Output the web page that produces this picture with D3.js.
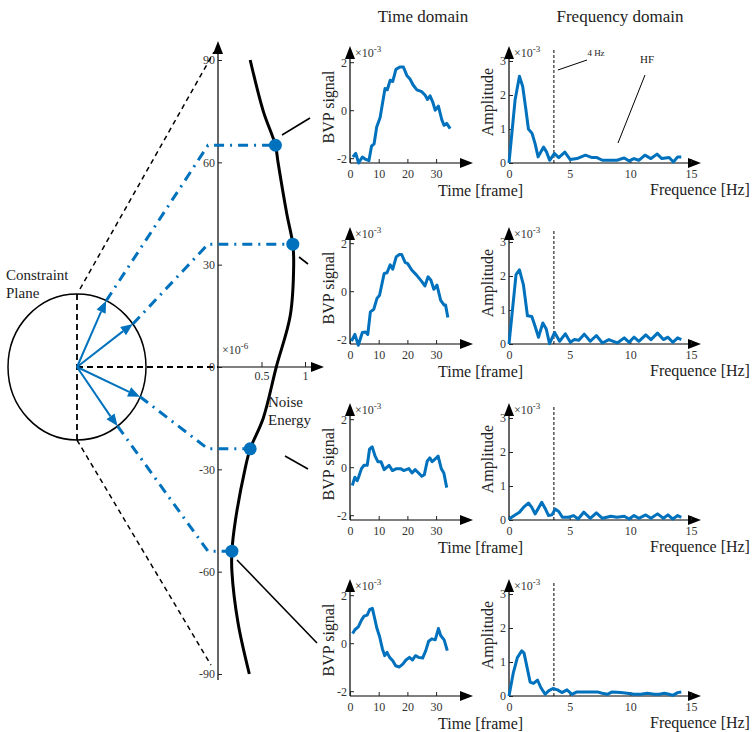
<!DOCTYPE html>
<html>
<head>
<meta charset="utf-8">
<script src="https://cdn.jsdelivr.net/npm/d3@7"></script>
<style>
  body { margin: 0; background: #fff; }
  svg { display: block; }
  text { font-family: "Liberation Serif", "DejaVu Serif", serif; }
</style>
</head>
<body>
<div id="fig"></div>
<script>
// 1: DATA
const angleTicks = [90, 60, 30, 0, -30, -60, -90];
const energyTicks = [0.5, 1];
// noise energy (x1e-6) against projection angle (deg)
const energyCurve = [
  [90, 0.37], [75, 0.52], [65, 0.66], [60, 0.69], [45, 0.79], [36, 0.86], [30, 0.87],
  [15, 0.83], [0, 0.67], [-15, 0.52], [-24, 0.37], [-30, 0.31], [-45, 0.2],
  [-54, 0.16], [-60, 0.16], [-75, 0.23], [-90, 0.36]
];
const pickedAngles = [65, 36, -24, -54];
const pickedEnergy = [0.66, 0.86, 0.37, 0.16];

const timeTicks = [0, 10, 20, 30];
const bvpTicks = [-2, 0, 2];
const freqTicks = [0, 5, 10, 15];
const ampTicks = [0, 1, 2, 3];

const time1 = [[1,-1.95],[2,-1.8],[3,-2.2],[4.3,-1.95],[5.5,-2.05],[6.6,-2.1],[7.5,-1.5],[8.4,-1.4],[9.3,-0.7],[10.5,-0.3],[12.2,0.9],[13,0.85],[14,1.25],[14.9,1.2],[16,1.7],[17.4,1.8],[18.6,1.8],[19.8,1.45],[20.9,1.3],[22,1.05],[23.3,0.85],[25,0.77],[26.2,0.62],[27,0.45],[27.9,0.6],[28.8,0.35],[29.7,0],[30.8,0.17],[32,-0.4],[32.8,-0.63],[33.7,-0.55],[34.9,-0.77]];
const time2 = [[0.5,-2.08],[1.7,-1.8],[2.9,-2.25],[4.3,-1.72],[5.4,-1.7],[6.2,-1.8],[7.1,-0.86],[8.3,-0.75],[9.4,-0.3],[10.3,-0.17],[11.9,0.74],[12.9,0.77],[14,1.1],[14.9,0.92],[16.1,1.43],[17.2,1.53],[18,1.53],[19.2,1.2],[20.1,1.15],[21.5,0.88],[23.2,0.67],[24.9,0.42],[26.1,0.22],[27.2,0.6],[28.2,0.46],[29.2,0.08],[30.3,0.25],[31.6,-0.38],[32.8,-0.58],[33.3,-0.58],[34.1,-1.1]];
const time3 = [[0.8,-0.76],[1.7,-0.42],[2.5,-0.56],[3.1,-0.38],[4,-0.06],[4.9,0.08],[6,0.08],[6.8,0.75],[7.7,0.85],[8.75,0.46],[9.7,0.23],[10.8,0.23],[11.9,-0.1],[13.6,0.08],[14.8,-0.14],[16.2,-0.06],[17.6,-0.06],[18.7,-0.14],[20.5,-0.06],[21.6,-0.24],[22.7,-0.1],[23.9,-0.24],[25,-0.38],[25.9,-0.31],[26.9,0.25],[27.8,0.39],[28.6,0.23],[29.5,0.32],[30.7,0.46],[31.8,-0.06],[32.7,-0.24],[33.7,-0.85]];
const time4 = [[0.9,0.4],[1.7,0.56],[2.9,0.68],[4,0.96],[4.9,1.13],[6,1.17],[6.9,1.41],[7.8,1.45],[8.6,1.03],[9.4,0.61],[10.3,0.28],[11.3,-0.24],[12.1,-0.52],[12.9,-0.38],[13.8,-0.59],[14.9,-0.73],[15.9,-0.94],[17.2,-0.99],[18.4,-0.87],[19.5,-0.7],[20.7,-0.59],[21.8,-0.7],[22.8,-0.52],[23.9,-0.59],[25.3,-0.62],[26.4,-0.31],[27.4,0.08],[28.5,0.18],[29.7,0.14],[30.8,0.61],[31.6,0.32],[32.8,0.14],[33.9,-0.31]];

const freq1 = [[0,0],[0.5,1.85],[0.86,2.55],[1.13,2.25],[1.4,1.55],[1.6,1.0],[1.9,0.87],[2.15,0.57],[2.4,0.18],[2.85,0.47],[3.1,0.32],[3.35,0.08],[3.75,0.28],[4.1,0.16],[4.6,0.32],[5.05,0.1],[5.6,0.13],[6.3,0.23],[6.85,0.16],[7.25,0.16],[7.7,0.08],[8.4,0.08],[8.9,0.08],[9.5,0.15],[9.9,0.06],[10.3,0.13],[10.7,0.08],[11.2,0.23],[11.7,0.13],[12.2,0.26],[12.6,0.13],[13.2,0.16],[13.55,0.03],[13.9,0.18],[14.2,0.18]];
const freq2 = [[0,0],[0.58,2.04],[0.86,2.18],[1.19,1.74],[1.52,0.83],[1.88,0.81],[2.15,0.52],[2.43,0.2],[2.79,0.62],[3.07,0.44],[3.34,0.01],[3.76,0.34],[4.17,0.08],[4.64,0.3],[5.06,0.05],[5.39,0.13],[5.75,0.11],[6.2,0.29],[6.7,0.08],[7.2,0.25],[7.7,0.03],[8.23,0.13],[8.92,0.03],[9.5,0.18],[9.9,0.05],[10.3,0.2],[10.7,0.08],[11.27,0.27],[11.7,0.13],[12.24,0.32],[12.73,0.13],[13.1,0.2],[13.5,0.05],[13.9,0.18],[14.2,0.13]];
const freq3 = [[0,0.03],[0.5,0.15],[0.86,0.23],[1.19,0.37],[1.6,0.5],[1.88,0.37],[2.15,0.18],[2.38,0.32],[2.7,0.52],[2.98,0.34],[3.26,0.13],[3.54,0.15],[3.8,0.32],[4.1,0.25],[4.4,0.08],[4.9,0.08],[5.33,0.13],[5.7,0.03],[6.16,0.23],[6.7,0.05],[7.2,0.21],[7.7,0.05],[8.4,0.11],[8.9,0.08],[9.5,0.11],[9.9,0.03],[10.3,0.13],[10.7,0.05],[11.27,0.15],[11.7,0.05],[12.24,0.18],[12.73,0.05],[13.1,0.15],[13.5,0.03],[13.9,0.13],[14.2,0.08]];
const freq4 = [[0,0],[0.36,0.69],[0.69,1.13],[1.05,1.33],[1.24,1.26],[1.52,0.79],[1.74,0.41],[2.02,0.37],[2.35,0.47],[2.62,0.25],[2.98,0.05],[3.26,0.15],[3.62,0.22],[4.0,0.18],[4.36,0.1],[4.78,0.18],[5.19,0.05],[5.6,0.12],[6.16,0.12],[6.7,0.12],[7.27,0.12],[7.68,0.08],[8.1,0.05],[8.5,0.12],[9.2,0.1],[9.75,0.08],[10.3,0.05],[10.86,0.05],[11.4,0.08],[11.96,0.05],[12.4,0.05],[12.8,0.08],[13.2,0.05],[13.5,0.02],[13.9,0.1],[14.2,0.12]];

const timeSeries = [time1, time2, time3, time4];
const freqSeries = [freq1, freq2, freq3, freq4];
const cutoffHz = 3.7;

// 2: SVG
const W = 753, H = 732;
const blue = "#0072BD";
const plain = d => String(d); // hyphen minus like the original
const svg = d3.select("#fig").append("svg").attr("width", W).attr("height", H);

function arrowHead(g, x, y, dir) {
  // filled triangle, tip at (x,y)
  const p = dir === "up"
    ? [[x, y], [x - 5, y + 13], [x + 5, y + 13]]
    : [[x, y], [x - 13, y - 5], [x - 13, y + 5]];
  g.append("path").attr("d", "M" + p.join("L") + "Z").attr("fill", "#000");
}

function styleAxis(g, size) {
  g.select(".domain").remove();
  g.selectAll(".tick line").attr("stroke", "#222");
  g.selectAll("text").attr("font-family", "Liberation Serif, serif").attr("font-size", size).attr("fill", "#333");
}

// 3: MIDDLE AXIS (angle vs noise energy)
const yAng = d3.scaleLinear().domain([-90, 90]).range([674, 60]);
const xE = d3.scaleLinear().domain([0, 1]).range([218, 305]);
const axX = xE(0), axY = yAng(0);

const mid = svg.append("g");
mid.append("line").attr("x1", axX).attr("x2", axX).attr("y1", 680).attr("y2", 50).attr("stroke", "#000").attr("stroke-width", 1.2);
arrowHead(mid, axX, 41, "up");
mid.append("line").attr("x1", axX).attr("x2", 312).attr("y1", axY).attr("y2", axY).attr("stroke", "#000").attr("stroke-width", 1.2);
arrowHead(mid, 324, axY, "right");

const angAxis = mid.append("g").attr("transform", `translate(${axX},0)`)
  .call(d3.axisLeft(yAng).tickValues(angleTicks).tickSize(-4).tickPadding(3).tickFormat(plain));
styleAxis(angAxis, 12);
const eAxis = mid.append("g").attr("transform", `translate(0,${axY})`)
  .call(d3.axisBottom(xE).tickValues(energyTicks).tickSize(-5).tickPadding(4).tickFormat(plain));
styleAxis(eAxis, 12);

mid.append("text").attr("x", 222).attr("y", 354).attr("font-size", 12).attr("fill", "#333")
  .text("×10").append("tspan").attr("dy", -5).attr("font-size", 9).text("-6");

// 4: LEFT CONSTRAINT PLANE
const cx = 77, cy = axY, rx = 69, ry = 73;
const left = svg.append("g");
left.append("ellipse").attr("cx", cx).attr("cy", cy).attr("rx", rx).attr("ry", ry)
  .attr("fill", "none").attr("stroke", "#000").attr("stroke-width", 1.5);
left.append("line").attr("x1", cx).attr("x2", cx).attr("y1", cy - ry).attr("y2", cy + ry)
  .attr("stroke", "#000").attr("stroke-width", 1.8).attr("stroke-dasharray", "6,4");
left.append("line").attr("x1", cx).attr("x2", axX).attr("y1", cy).attr("y2", cy)
  .attr("stroke", "#000").attr("stroke-width", 1.8).attr("stroke-dasharray", "6,4");
left.append("line").attr("x1", cx + 3).attr("y1", cy - ry - 5).attr("x2", axX - 4).attr("y2", yAng(90) - 8)
  .attr("stroke", "#000").attr("stroke-width", 1.5).attr("stroke-dasharray", "5,4");
left.append("line").attr("x1", cx).attr("y1", cy + ry).attr("x2", axX - 7).attr("y2", yAng(-90) - 9)
  .attr("stroke", "#000").attr("stroke-width", 1.5).attr("stroke-dasharray", "5,4");

svg.append("text").attr("x", 6).attr("y", 280).attr("font-size", 15).attr("fill", "#222").text("Constraint");
svg.append("text").attr("x", 6).attr("y", 298).attr("font-size", 15).attr("fill", "#222").text("Plane");
svg.append("text").attr("x", 268).attr("y", 407).attr("font-size", 15).attr("fill", "#222").text("Noise");
svg.append("text").attr("x", 268).attr("y", 425).attr("font-size", 15).attr("fill", "#222").text("Energy");

// noise energy curve
const curve = d3.line().x(d => xE(d[1])).y(d => yAng(d[0])).curve(d3.curveCatmullRom);
mid.append("path").datum(energyCurve).attr("d", curve)
  .attr("fill", "none").attr("stroke", "#000").attr("stroke-width", 3);

// picked directions: arrow, dash-dot projection, marker
pickedAngles.forEach((a, i) => {
  const t = a * Math.PI / 180;
  const tx = cx + rx * Math.cos(t), ty = cy - ry * Math.sin(t);
  const ux = Math.cos(t), uy = -Math.sin(t);
  const bx = tx - 12 * ux, by = ty - 12 * uy;
  left.append("line").attr("x1", cx).attr("y1", cy).attr("x2", bx).attr("y2", by)
    .attr("stroke", blue).attr("stroke-width", 2);
  left.append("path")
    .attr("d", `M${tx},${ty}L${bx - 5 * uy},${by + 5 * ux}L${bx + 5 * uy},${by - 5 * ux}Z`)
    .attr("fill", blue);
  const py = yAng(a);
  left.append("path").attr("d", `M${tx},${ty}L${axX - 10},${py}L${xE(pickedEnergy[i])},${py}`)
    .attr("fill", "none").attr("stroke", blue).attr("stroke-width", 3)
    .attr("stroke-dasharray", "10,6,2,6");
});
pickedAngles.forEach((a, i) => {
  mid.append("circle").attr("cx", xE(pickedEnergy[i])).attr("cy", yAng(a)).attr("r", 6.5).attr("fill", blue);
});

// connectors from markers to the small plots
const connectors = [[[282, 135], [310, 118]], [[299, 257], [308, 264]], [[285, 456], [308, 469]], [[237, 560], [317, 643]]];
connectors.forEach(c => {
  svg.append("line").attr("x1", c[0][0]).attr("y1", c[0][1]).attr("x2", c[1][0]).attr("y2", c[1][1])
    .attr("stroke", "#000").attr("stroke-width", 1.6);
});

// 5: SMALL PLOTS
svg.append("text").attr("x", 423).attr("y", 22).attr("text-anchor", "middle").attr("font-size", 17).attr("fill", "#222").text("Time domain");
svg.append("text").attr("x", 620).attr("y", 22).attr("text-anchor", "middle").attr("font-size", 17).attr("fill", "#222").text("Frequency domain");

const baselines = [163, 344, 520, 696];
const tAxisX = 350, fAxisX = 509;
const xT = d3.scaleLinear().domain([0, 40]).range([tAxisX, tAxisX + 114.8]);
const xF = d3.scaleLinear().domain([0, 15]).range([fAxisX, fAxisX + 182]);

function frame(g, x0, x1, base) {
  g.append("line").attr("x1", x0).attr("x2", x0).attr("y1", base).attr("y2", base - 106).attr("stroke", "#000").attr("stroke-width", 1.2);
  arrowHead(g, x0, base - 117, "up");
  g.append("line").attr("x1", x0).attr("x2", x1 - 10).attr("y1", base).attr("y2", base).attr("stroke", "#000").attr("stroke-width", 1.2);
  arrowHead(g, x1, base, "right");
  g.append("text").attr("x", x0 + 5).attr("y", base - 106).attr("font-size", 12).attr("fill", "#333")
    .text("×10").append("tspan").attr("dy", -5).attr("font-size", 9).text("-3");
}

baselines.forEach((base, r) => {
  // time domain
  const yT = d3.scaleLinear().domain([-2.2, 2]).range([base, base - 100.8]);
  const gt = svg.append("g");
  frame(gt, tAxisX, 473, base);
  styleAxis(gt.append("g").attr("transform", `translate(${tAxisX},0)`)
    .call(d3.axisLeft(yT).tickValues(bvpTicks).tickSize(-4).tickPadding(3).tickFormat(plain)), 12);
  styleAxis(gt.append("g").attr("transform", `translate(0,${base})`)
    .call(d3.axisBottom(xT).tickValues(timeTicks).tickSize(-4).tickPadding(6).tickFormat(plain)), 12);
  gt.append("path").datum(timeSeries[r])
    .attr("d", d3.line().x(d => xT(d[0])).y(d => yT(d[1])))
    .attr("fill", "none").attr("stroke", blue).attr("stroke-width", 3).attr("stroke-linejoin", "round");
  gt.append("text").attr("transform", `translate(334,${base - 56}) rotate(-90)`)
    .attr("text-anchor", "middle").attr("font-size", 16).attr("fill", "#222").text("BVP signal");
  gt.append("text").attr("x", 438).attr("y", base + 33).attr("font-size", 16).attr("fill", "#222").text("Time [frame]");

  // frequency domain
  const yF = d3.scaleLinear().domain([0, 3]).range([base, base - 102]);
  const gf = svg.append("g");
  frame(gf, fAxisX, 701, base);
  styleAxis(gf.append("g").attr("transform", `translate(${fAxisX},0)`)
    .call(d3.axisLeft(yF).tickValues(ampTicks).tickSize(-4).tickPadding(3).tickFormat(plain)), 12);
  styleAxis(gf.append("g").attr("transform", `translate(0,${base})`)
    .call(d3.axisBottom(xF).tickValues(freqTicks).tickSize(-4).tickPadding(6).tickFormat(plain)), 12);
  gf.append("line").attr("x1", xF(cutoffHz)).attr("x2", xF(cutoffHz)).attr("y1", base - 113).attr("y2", base)
    .attr("stroke", "#000").attr("stroke-width", 1).attr("stroke-dasharray", "3,2");
  gf.append("path").datum(freqSeries[r])
    .attr("d", d3.line().x(d => xF(d[0])).y(d => yF(d[1])))
    .attr("fill", "none").attr("stroke", blue).attr("stroke-width", 3).attr("stroke-linejoin", "round");
  gf.append("text").attr("transform", `translate(493,${base - 61}) rotate(-90)`)
    .attr("text-anchor", "middle").attr("font-size", 16).attr("fill", "#222").text("Amplitude");
  gf.append("text").attr("x", 650).attr("y", base + 32).attr("font-size", 16).attr("fill", "#222").text("Frequence [Hz]");

  if (r === 0) {
    gf.append("text").attr("x", 596).attr("y", base - 107).attr("text-anchor", "middle").attr("font-size", 9).attr("fill", "#222").text("4 Hz");
    gf.append("line").attr("x1", xF(cutoffHz) + 4).attr("y1", base - 93).attr("x2", 587).attr("y2", base - 103)
      .attr("stroke", "#000").attr("stroke-width", 1);
    gf.append("text").attr("x", 647).attr("y", base - 100).attr("text-anchor", "middle").attr("font-size", 11).attr("fill", "#222").text("HF");
    gf.append("line").attr("x1", 645).attr("y1", base - 88).attr("x2", 618).attr("y2", base - 20)
      .attr("stroke", "#000").attr("stroke-width", 1);
  }
});
</script>
</body>
</html>
